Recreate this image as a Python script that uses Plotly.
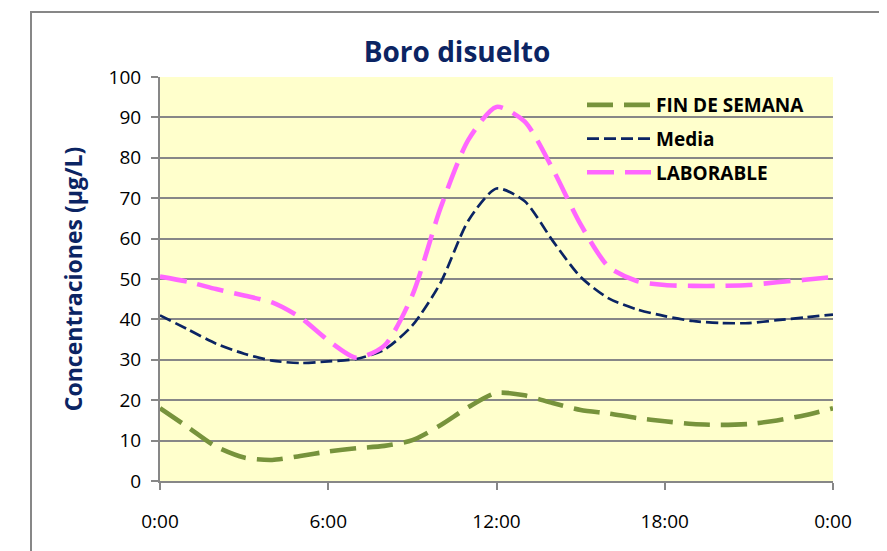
import plotly.graph_objects as go

hours = list(range(0, 25))
tick_vals = [0, 6, 12, 18, 24]
tick_text = ["0:00", "6:00", "12:00", "18:00", "0:00"]

fin_de_semana = [18.0, 13.3, 8.5, 5.8, 5.2, 6.2, 7.3, 8.1, 8.7, 10.1, 13.8, 18.3, 21.8,
                 21.2, 19.3, 17.6, 16.7, 15.6, 14.8, 14.1, 13.9, 14.1, 15.0, 16.3, 18.0]
media = [41.0, 37.5, 34.0, 31.5, 29.8, 29.2, 29.6, 30.2, 32.5, 38.5, 49.0, 64.5, 72.4,
         69.3, 59.5, 50.5, 45.2, 42.5, 40.8, 39.6, 39.1, 39.1, 39.8, 40.5, 41.2]
laborable = [50.6, 49.3, 47.5, 45.9, 44.2, 40.5, 34.8, 30.5, 33.5, 46.0, 67.5, 84.5, 92.6,
             89.0, 77.3, 63.5, 53.0, 49.5, 48.5, 48.3, 48.3, 48.5, 49.2, 49.8, 50.5]

NAVY = "#0B2463"
GRID = "#878787"

fig = go.Figure()
fig.add_trace(go.Scatter(x=hours, y=fin_de_semana, name="FIN DE SEMANA", mode="lines",
                         line=dict(color="#77933C", width=4.6, dash="26px,11px", shape="spline", smoothing=0.7),
                         legendgroup="a"))
fig.add_trace(go.Scatter(x=hours, y=media, name="Media", mode="lines",
                         line=dict(color="#0B2463", width=2.7, dash="12px,5px", shape="spline", smoothing=0.7),
                         legendgroup="b"))
fig.add_trace(go.Scatter(x=hours, y=laborable, name="LABORABLE", mode="lines",
                         line=dict(color="#FF66FF", width=4.6, dash="27px,11px", shape="spline", smoothing=0.7),
                         legendgroup="c"))

OFF = 8  # page body margin
W, H = 887 - OFF, 551 - OFF
# target page coordinates of plot area
PL, PR, PT, PB = 160, 833, 77, 481
L, T = PL - OFF, PT - OFF
R, B = W - (PR - OFF), H - (PB - OFF)
pw, ph = W - L - R, H - T - B


def px(x):  # page x -> paper x
    return (x - PL) / pw


def py(y):  # page y -> paper y
    return (PB - y) / ph


fig.update_layout(
    width=W, height=H,
    margin=dict(l=L, r=R, t=T, b=B, autoexpand=False),
    paper_bgcolor="white",
    plot_bgcolor="#FFFFCC",
    font=dict(family="Open Sans", color="black"),
    title=dict(text="<b>Boro disuelto</b>", x=(457 - OFF) / W, xanchor="center", xref="container",
               y=1 - (52 - OFF) / H, yanchor="middle", yref="container",
               font=dict(family="Open Sans", size=28, color=NAVY)),
    showlegend=True,
    legend=dict(x=px(582), y=py(86), xanchor="left", yanchor="top",
                bgcolor="rgba(0,0,0,0)", borderwidth=0,
                font=dict(family="Open Sans", size=19, color="black", weight="bold"),
                itemwidth=64, tracegroupgap=6, traceorder="grouped"),
    xaxis=dict(range=[0, 24], tickvals=tick_vals, ticktext=tick_text,
               showgrid=False, zeroline=False,
               showline=True, linecolor=GRID, linewidth=2,
               ticks="outside", ticklen=7, tickwidth=2, tickcolor=GRID,
               tickfont=dict(family="Open Sans", size=19, color="black"),
               ticklabelstandoff=15),
    yaxis=dict(range=[0, 100], dtick=10, tick0=0,
               showgrid=True, gridcolor=GRID, gridwidth=2, zeroline=False,
               showline=True, linecolor=GRID, linewidth=2,
               ticks="outside", ticklen=7, tickwidth=2, tickcolor=GRID,
               tickfont=dict(family="Open Sans", size=19, color="black"),
               ticklabelstandoff=6,
               title=dict(text="<b>Concentraciones (μg/L)</b>",
                          font=dict(family="Open Sans", size=23, color=NAVY), standoff=20)),
    shapes=[dict(type="rect", xref="paper", yref="paper",
                 x0=px(31), x1=px(882), y0=py(12), y1=py(600),
                 line=dict(color=GRID, width=2), fillcolor="rgba(0,0,0,0)", layer="below")],
)

fig.write_html("out.html")
